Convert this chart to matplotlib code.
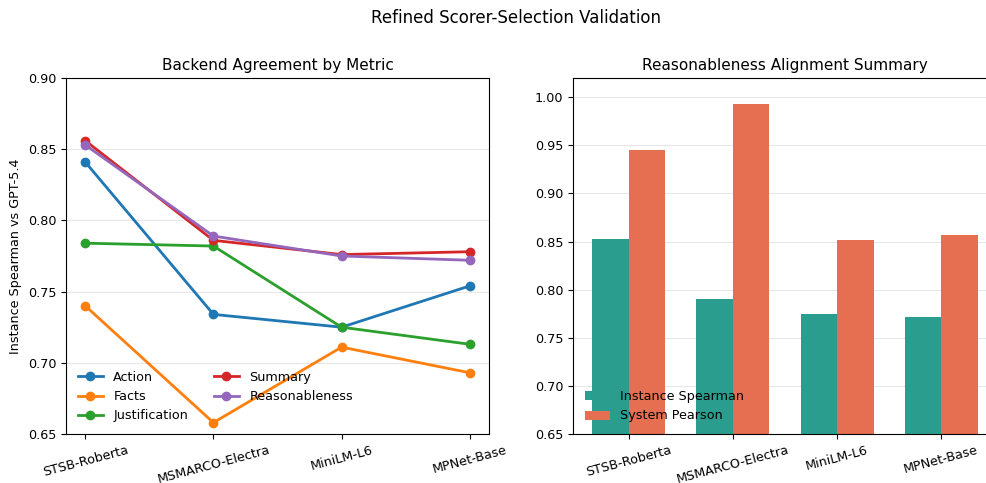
import matplotlib
matplotlib.use("Agg")
import matplotlib.pyplot as plt
import numpy as np

backends = ["STSB-Roberta", "MSMARCO-Electra", "MiniLM-L6", "MPNet-Base"]
action = [0.841, 0.734, 0.725, 0.754]
facts = [0.740, 0.658, 0.711, 0.693]
justification = [0.784, 0.782, 0.725, 0.713]
summary = [0.856, 0.786, 0.776, 0.778]
reasonableness = [0.853, 0.789, 0.775, 0.772]
instance_spearman = [0.853, 0.790, 0.775, 0.772]
system_pearson = [0.945, 0.993, 0.852, 0.857]

plt.rcParams["font.size"] = 9.2

fig = plt.figure(figsize=(9.86, 4.83), dpi=100)
ax1 = fig.add_axes([66/986, 49/483, 423/986, 356/483])
ax2 = fig.add_axes([573/986, 49/483, 424/986, 356/483])

x = np.arange(len(backends))
series = [("Action", action, "#1f77b4"), ("Facts", facts, "#ff7f0e"),
          ("Justification", justification, "#2ca02c"), ("Summary", summary, "#d62728"),
          ("Reasonableness", reasonableness, "#9467bd")]
for name, vals, c in series:
    ax1.plot(x, vals, marker="o", lw=2, ms=6, color=c, label=name)
ax1.set_ylim(0.65, 0.90)
ax1.set_xticks(x)
ax1.set_xticklabels(backends, rotation=15)
ax1.set_ylabel("Instance Spearman vs GPT-5.4")
ax1.set_title("Backend Agreement by Metric", fontsize=11)
ax1.grid(axis="y", alpha=0.3)
ax1.legend(loc="lower left", ncol=2, frameon=False)

w = 0.35
ax2.bar(x - w/2, instance_spearman, w, color="#2a9d8f", label="Instance Spearman")
ax2.bar(x + w/2, system_pearson, w, color="#e76f51", label="System Pearson")
ax2.set_ylim(0.65, 1.02)
ax2.set_xticks(x)
ax2.set_xticklabels(backends, rotation=15)
ax2.set_title("Reasonableness Alignment Summary", fontsize=11)
ax2.grid(axis="y", alpha=0.3)
ax2.set_axisbelow(True)
ax2.legend(loc="lower left", frameon=False)

fig.suptitle("Refined Scorer-Selection Validation", fontsize=12, x=516/986, y=0.982)
fig.savefig("out.png", dpi=100)
